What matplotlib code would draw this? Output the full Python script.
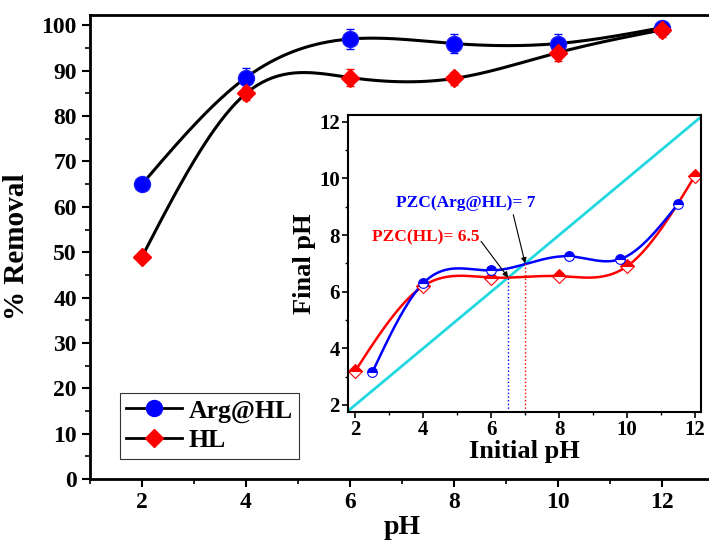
import numpy as np
import matplotlib
matplotlib.use("Agg")
import matplotlib.pyplot as plt
from matplotlib.ticker import MultipleLocator

plt.rcParams['font.family'] = ['Liberation Serif', 'DejaVu Serif']
plt.rcParams['font.weight'] = 'bold'

# main plot data
ph = [2, 4, 6, 8, 10, 12]
removal_arg = [65, 88.5, 97, 96, 96, 99.5]
err_arg = [1.0, 2.0, 2.2, 2.0, 2.0, 1.5]
removal_hl = [49, 85, 88.5, 88.3, 94, 99]
err_hl = [1.0, 1.5, 1.8, 1.5, 1.8, 1.5]

# inset (PZC) data
init_hl = [2, 4, 6, 8, 10, 12]
final_hl = [3.2, 6.2, 6.5, 6.55, 6.9, 10.1]
init_arg = [2.5, 4, 6, 8.3, 9.8, 11.5]
final_arg = [3.15, 6.3, 6.75, 7.25, 7.15, 9.1]
pzc_arg = 7.0
pzc_hl = 6.5


def smooth(x, y, n=200):
    # natural cubic spline, used only for drawing the connecting curve
    x = np.asarray(x, float)
    y = np.asarray(y, float)
    k = len(x)
    h = np.diff(x)
    A = np.zeros((k, k))
    b = np.zeros(k)
    A[0, 0] = A[-1, -1] = 1
    for i in range(1, k - 1):
        A[i, i - 1] = h[i - 1]
        A[i, i] = 2 * (h[i - 1] + h[i])
        A[i, i + 1] = h[i]
        b[i] = 6 * ((y[i + 1] - y[i]) / h[i] - (y[i] - y[i - 1]) / h[i - 1])
    M = np.linalg.solve(A, b)
    xs = np.linspace(x[0], x[-1], n)
    idx = np.clip(np.searchsorted(x, xs) - 1, 0, k - 2)
    x0, x1 = x[idx], x[idx + 1]
    hh = x1 - x0
    t0 = x1 - xs
    t1 = xs - x0
    ys = (M[idx] * t0 ** 3 + M[idx + 1] * t1 ** 3) / (6 * hh) \
        + (y[idx] / hh - M[idx] * hh / 6) * t0 \
        + (y[idx + 1] / hh - M[idx + 1] * hh / 6) * t1
    return xs, ys


fig = plt.figure(figsize=(7.09, 5.44), dpi=100)
ax = fig.add_axes([0.127, 0.1195, 0.880, 0.853])

xs, ys = smooth(ph, removal_arg)
ax.plot(xs, ys, color='black', lw=2.2)
xs, ys = smooth(ph, removal_hl)
ax.plot(xs, ys, color='black', lw=2.2)
ax.errorbar(ph, removal_arg, yerr=err_arg, fmt='none', ecolor='blue', capsize=3, lw=1)
ax.errorbar(ph, removal_hl, yerr=err_hl, fmt='none', ecolor='red', capsize=3, lw=1)
ax.plot(ph, removal_arg, 'o', color='blue', ms=11.5, mec='#1a1aff')
ax.plot(ph, removal_hl, 'D', color='red', ms=9.5, mec='red')

# legend proxies
ax.plot([], [], '-o', color='black', mfc='blue', mec='blue', ms=11.5, lw=2, label='Arg@HL')
ax.plot([], [], '-D', color='black', mfc='red', mec='red', ms=9.5, lw=2, label='HL')
leg = ax.legend(loc='lower left', bbox_to_anchor=(0.039, 0.033), fontsize=18.5,
                frameon=True, fancybox=False, edgecolor='black',
                handlelength=2.2, borderpad=0.25, labelspacing=0.25, handletextpad=0.25,
                borderaxespad=0.2)
leg.get_frame().set_linewidth(0.8)

ax.set_xlim(1, 13)
ax.set_ylim(0, 102.3)
ax.xaxis.set_major_locator(MultipleLocator(2))
ax.xaxis.set_minor_locator(MultipleLocator(1))
ax.yaxis.set_major_locator(MultipleLocator(10))
ax.yaxis.set_minor_locator(MultipleLocator(5))
ax.tick_params(which='major', direction='out', length=6, width=1.5, labelsize=17)
ax.tick_params(which='minor', direction='out', length=3.5, width=1.2)
for s in ax.spines.values():
    s.set_linewidth(2)
ax.set_xlabel('pH', fontsize=20, fontweight='bold', labelpad=1)
ax.set_ylabel('% Removal', fontsize=21, fontweight='bold', labelpad=8)

# inset
ins = fig.add_axes([0.491, 0.2426, 0.498, 0.546])
ins.plot([1.79, 12.18], [1.79, 12.18], color='#22d8e0', lw=2)
xs, ys = smooth(init_hl, final_hl)
ins.plot(xs, ys, color='red', lw=1.8)
xs, ys = smooth(init_arg, final_arg)
ins.plot(xs, ys, color='blue', lw=1.8)
ins.plot(init_hl, final_hl, 'D', ms=7, color='red', fillstyle='top',
         markerfacecoloralt='white', mec='red', mew=0.8)
ins.plot(init_arg, final_arg, 'o', ms=7, color='blue', fillstyle='top',
         markerfacecoloralt='white', mec='blue', mew=0.8)
ins.plot([pzc_hl, pzc_hl], [1.75, pzc_hl], ls=':', color='blue', lw=1)
ins.plot([pzc_arg, pzc_arg], [1.75, pzc_arg], ls=':', color='red', lw=1)
ins.text(3.2, 9.13, 'PZC(Arg@HL)= 7', color='blue', fontsize=12.5,
         fontweight='bold', va='center', ha='left')
ins.text(2.5, 7.92, 'PZC(HL)= 6.5', color='red', fontsize=12.5,
         fontweight='bold', va='center', ha='left')
ins.annotate('', xy=(pzc_arg, pzc_arg), xytext=(6.65, 8.72),
             arrowprops=dict(arrowstyle='-|>', color='black', lw=0.8,
                             mutation_scale=8, shrinkA=0, shrinkB=0))
ins.annotate('', xy=(pzc_hl, pzc_hl), xytext=(5.7, 7.78),
             arrowprops=dict(arrowstyle='-|>', color='black', lw=0.8,
                             mutation_scale=8, shrinkA=0, shrinkB=0))
ins.set_xlim(1.79, 12.18)
ins.set_ylim(1.75, 12.24)
ins.xaxis.set_major_locator(MultipleLocator(2))
ins.xaxis.set_minor_locator(MultipleLocator(1))
ins.yaxis.set_major_locator(MultipleLocator(2))
ins.yaxis.set_minor_locator(MultipleLocator(1))
ins.tick_params(which='major', direction='out', length=4, width=1.2, labelsize=15, pad=2)
ins.tick_params(which='minor', direction='out', length=2.5, width=1)
for s in ins.spines.values():
    s.set_linewidth(1.5)
ins.set_xlabel('Initial pH', fontsize=19, fontweight='bold', labelpad=0)
ins.set_ylabel('Final pH', fontsize=19, fontweight='bold', labelpad=2)

fig.savefig('out.png', dpi=100)
